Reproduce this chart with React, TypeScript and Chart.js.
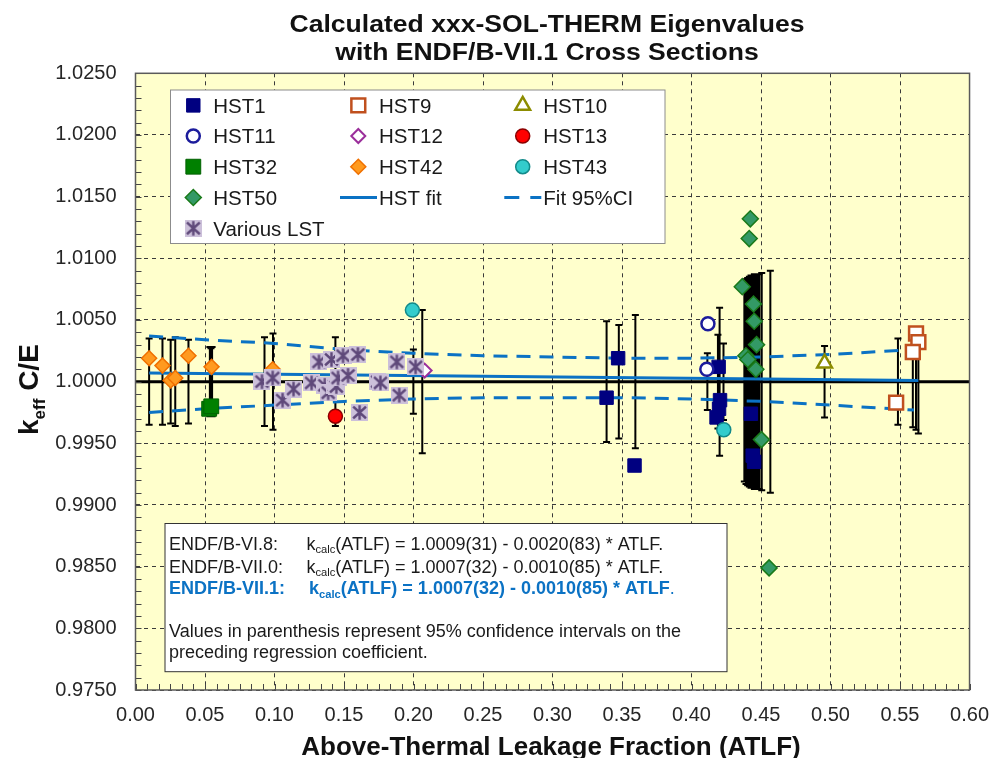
import React, { useEffect, useRef } from 'react';
import { Chart, registerables } from 'chart.js';

Chart.register(...registerables);

const FONT = '"Liberation Sans", Arial, Helvetica, sans-serif';

// ---------------- data ----------------
const xTickLabels = ['0.00', '0.05', '0.10', '0.15', '0.20', '0.25', '0.30', '0.35', '0.40', '0.45', '0.50', '0.55', '0.60'];
const yTickLabels = ['0.9750', '0.9800', '0.9850', '0.9900', '0.9950', '1.0000', '1.0050', '1.0100', '1.0150', '1.0200', '1.0250'];

const hst1X = [0.3389, 0.3472, 0.3590, 0.4195, 0.4205, 0.4198, 0.4180, 0.4427, 0.4440, 0.4450];
const hst1Y = [0.9987, 1.0019, 0.9932, 1.0012, 0.9985, 0.9978, 0.9971, 0.9974, 0.9940, 0.9935];
const hst9X = [0.5472, 0.5615, 0.5632, 0.5592];
const hst9Y = [0.9983, 1.0039, 1.0032, 1.0024];
const hst10X = [0.4957];
const hst10Y = [1.0015];
const hst11X = [0.4118, 0.4110];
const hst11Y = [1.0047, 1.0010];
const hst12X = [0.2080];
const hst12Y = [1.0009];
const hst13X = [0.1438];
const hst13Y = [0.9972];
const hst32X = [0.0530, 0.0545];
const hst32Y = [0.9978, 0.9980];
const hst42X = [0.0098, 0.0194, 0.0253, 0.0286, 0.0381, 0.0547, 0.0987];
const hst42Y = [1.0019, 1.0013, 1.0001, 1.0003, 1.0021, 1.0012, 1.0010];
const hst43X = [0.1992, 0.4232];
const hst43Y = [1.0058, 0.9961];
const hst50X = [0.4423, 0.4415, 0.4365, 0.4446, 0.4451, 0.4468, 0.4391, 0.4405, 0.4463, 0.4503, 0.4558];
const hst50Y = [1.0132, 1.0116, 1.0077, 1.0063, 1.0049, 1.0030, 1.0021, 1.0018, 1.0010, 0.9953, 0.9849];
const lstX = [0.0910, 0.0987, 0.1058, 0.1137, 0.1267, 0.1320, 0.1362, 0.1386, 0.1410, 0.1434, 0.1445, 0.1457, 0.1493, 0.1529, 0.1600, 0.1612, 0.1742, 0.1762, 0.1880, 0.1897, 0.2015];
const lstY = [1.0000, 1.0003, 0.9985, 0.9994, 0.9999, 1.0016, 0.9997, 0.9991, 1.0018, 0.9997, 0.9996, 1.0003, 1.0021, 1.0005, 1.0022, 0.9975, 1.0000, 0.9999, 1.0016, 0.9989, 1.0012];

// HST linear fit and its 95% confidence band
const fitX = [0.0098, 0.5632];
const fitY = [1.0007, 1.0001];
const ciX = [0.0098, 0.05, 0.10, 0.15, 0.20, 0.25, 0.30, 0.35, 0.40, 0.45, 0.50, 0.5600];
const ciUpper = [1.0037, 1.0034, 1.0031, 1.0026, 1.0023, 1.0021, 1.0020, 1.0019, 1.0019, 1.0020, 1.0022, 1.0026];
const ciLower = [0.9975, 0.9978, 0.9981, 0.9984, 0.9986, 0.9987, 0.9987, 0.9987, 0.9986, 0.9984, 0.9981, 0.9977];

// reference line C/E = 1
const refX = [0, 0.6];
const refY = [1, 1];

// benchmark uncertainty bars (centred on C/E = 1): x position and half-width
const errX = [0.0098, 0.0194, 0.0253, 0.0286, 0.0381, 0.0535, 0.0543, 0.0551, 0.0928, 0.0989, 0.1438, 0.1999, 0.2063, 0.3389, 0.3477, 0.3596, 0.4114, 0.4190, 0.4202, 0.4230, 0.4380, 0.4392, 0.4404, 0.4416, 0.4428, 0.4440, 0.4452, 0.4464, 0.4475, 0.4488, 0.4505, 0.4567, 0.4957, 0.5485, 0.5592, 0.5615, 0.5632];
const errU = [0.0035, 0.0035, 0.0034, 0.0036, 0.0034, 0.0028, 0.0027, 0.0028, 0.0036, 0.0039, 0.0036, 0.0026, 0.0058, 0.0049, 0.0046, 0.0054, 0.0023, 0.0038, 0.0060, 0.0031, 0.0081, 0.0083, 0.0084, 0.0085, 0.0086, 0.0086, 0.0087, 0.0086, 0.0087, 0.0087, 0.0088, 0.0090, 0.0029, 0.0035, 0.0037, 0.0039, 0.0042];

// ---------------- styles ----------------
type Shape = 'rect' | 'rectRot' | 'circle' | 'triangle' | 'lst';
interface MStyle { shape: Shape; r: number; fill: string; stroke: string; lw: number }

const BLUE = '#0B72C4';
const S: Record<string, MStyle> = {
  HST1: { shape: 'rect', r: 9.5, fill: '#000080', stroke: '#000080', lw: 1 },
  HST9: { shape: 'rect', r: 9.8, fill: '#FFFFFF', stroke: '#C0501E', lw: 2.5 },
  HST10: { shape: 'triangle', r: 8.5, fill: '#FFFFFF', stroke: '#8C8C00', lw: 2.5 },
  HST11: { shape: 'circle', r: 6.5, fill: '#FFFFFF', stroke: '#1C1C9C', lw: 2.5 },
  HST12: { shape: 'rectRot', r: 7, fill: '#FFFFFF', stroke: '#9B2F9B', lw: 2 },
  HST13: { shape: 'circle', r: 7, fill: '#FF0000', stroke: '#8B0000', lw: 1.5 },
  HST32: { shape: 'rect', r: 10.5, fill: '#008000', stroke: '#006000', lw: 1 },
  HST42: { shape: 'rectRot', r: 7.5, fill: '#FF9A1F', stroke: '#F07000', lw: 1.5 },
  HST43: { shape: 'circle', r: 7, fill: '#33CCCC', stroke: '#138A8A', lw: 1.5 },
  HST50: { shape: 'rectRot', r: 8, fill: '#339966', stroke: '#1A7A1A', lw: 1.5 },
  LST: { shape: 'lst', r: 8.5, fill: '#CCC0DA', stroke: '#5F497A', lw: 2.4 },
};

function makeLstMarker(): HTMLCanvasElement {
  const c = document.createElement('canvas');
  c.width = 17;
  c.height = 17;
  const g = c.getContext('2d')!;
  g.fillStyle = S.LST.fill;
  g.fillRect(0, 0, 17, 17);
  g.strokeStyle = S.LST.stroke;
  g.lineWidth = S.LST.lw;
  g.lineCap = 'square';
  g.beginPath();
  g.moveTo(3, 3.5); g.lineTo(14, 13.5);
  g.moveTo(14, 3.5); g.lineTo(3, 13.5);
  g.moveTo(8.5, 2.5); g.lineTo(8.5, 14.5);
  g.stroke();
  return c;
}

function drawMarker(ctx: CanvasRenderingContext2D, st: MStyle, x: number, y: number, img: HTMLCanvasElement) {
  if (st.shape === 'lst') {
    ctx.drawImage(img, x - img.width / 2, y - img.height / 2);
    return;
  }
  const r = st.r;
  ctx.save();
  ctx.beginPath();
  if (st.shape === 'rect') {
    const s = Math.SQRT1_2 * r;
    ctx.rect(x - s, y - s, 2 * s, 2 * s);
  } else if (st.shape === 'rectRot') {
    ctx.moveTo(x - r, y); ctx.lineTo(x, y - r); ctx.lineTo(x + r, y); ctx.lineTo(x, y + r); ctx.closePath();
  } else if (st.shape === 'circle') {
    ctx.arc(x, y, r, 0, Math.PI * 2);
  } else {
    let a = 0;
    ctx.moveTo(x + Math.sin(a) * r, y - Math.cos(a) * r);
    a += (2 * Math.PI) / 3;
    ctx.lineTo(x + Math.sin(a) * r, y - Math.cos(a) * r);
    a += (2 * Math.PI) / 3;
    ctx.lineTo(x + Math.sin(a) * r, y - Math.cos(a) * r);
    ctx.closePath();
  }
  ctx.fillStyle = st.fill;
  ctx.fill();
  ctx.lineWidth = st.lw;
  ctx.strokeStyle = st.stroke;
  ctx.stroke();
  ctx.restore();
}

interface Seg { t: string; sub?: boolean; bold?: boolean }
function drawRich(ctx: CanvasRenderingContext2D, x: number, y: number, segs: Seg[], size: number, bold: boolean, color: string) {
  let cx = x;
  ctx.fillStyle = color;
  ctx.textBaseline = 'alphabetic';
  ctx.textAlign = 'left';
  for (const s of segs) {
    const fs = s.sub ? size * 0.62 : size;
    const b = s.bold === undefined ? bold : s.bold;
    ctx.font = `${b ? 'bold ' : ''}${fs}px ${FONT}`;
    ctx.fillText(s.t, cx, y + (s.sub ? size * 0.2 : 0));
    cx += ctx.measureText(s.t).width;
  }
}

const legendItems: { label: string; col: number; row: number; kind: 'm' | 'line' | 'dash'; st?: MStyle }[] = [
  { label: 'HST1', col: 0, row: 0, kind: 'm', st: S.HST1 },
  { label: 'HST9', col: 1, row: 0, kind: 'm', st: S.HST9 },
  { label: 'HST10', col: 2, row: 0, kind: 'm', st: S.HST10 },
  { label: 'HST11', col: 0, row: 1, kind: 'm', st: S.HST11 },
  { label: 'HST12', col: 1, row: 1, kind: 'm', st: S.HST12 },
  { label: 'HST13', col: 2, row: 1, kind: 'm', st: S.HST13 },
  { label: 'HST32', col: 0, row: 2, kind: 'm', st: S.HST32 },
  { label: 'HST42', col: 1, row: 2, kind: 'm', st: S.HST42 },
  { label: 'HST43', col: 2, row: 2, kind: 'm', st: S.HST43 },
  { label: 'HST50', col: 0, row: 3, kind: 'm', st: S.HST50 },
  { label: 'HST fit', col: 1, row: 3, kind: 'line' },
  { label: 'Fit 95%CI', col: 2, row: 3, kind: 'dash' },
  { label: 'Various LST', col: 0, row: 4, kind: 'm', st: S.LST },
];

function pts(xs: number[], ys: number[]) {
  return xs.map((x, i) => ({ x, y: ys[i] }));
}

export default function App() {
  const ref = useRef<HTMLCanvasElement>(null);

  useEffect(() => {
    const canvas = ref.current;
    if (!canvas) return;
    const lstImg = makeLstMarker();

    const mk = (label: string, xs: number[], ys: number[], st: MStyle, order: number) => ({
      type: 'scatter' as const,
      label,
      data: pts(xs, ys),
      showLine: false,
      order,
      pointStyle: st.shape === 'lst' ? lstImg : st.shape,
      pointRadius: st.r,
      pointBackgroundColor: st.fill,
      pointBorderColor: st.stroke,
      pointBorderWidth: st.lw,
      backgroundColor: st.fill,
      borderColor: st.stroke,
    });
    const ln = (label: string, xs: number[], ys: number[], color: string, width: number, dash: number[], order: number) => ({
      type: 'scatter' as const,
      label,
      data: pts(xs, ys),
      showLine: true,
      order,
      pointRadius: 0,
      borderColor: color,
      borderWidth: width,
      borderDash: dash,
      tension: 0,
      fill: false,
    });

    const errorBars = {
      id: 'errorBars',
      beforeDatasetsDraw(chart: any) {
        const { ctx, scales } = chart;
        const xs = scales.x, ys = scales.y;
        ctx.save();
        ctx.strokeStyle = '#000';
        ctx.lineWidth = 2;
        ctx.beginPath();
        errX.forEach((xv, i) => {
          const px = xs.getPixelForValue(xv);
          const t = ys.getPixelForValue(1 + errU[i]);
          const b = ys.getPixelForValue(1 - errU[i]);
          ctx.moveTo(px, t); ctx.lineTo(px, b);
          ctx.moveTo(px - 3.5, t); ctx.lineTo(px + 3.5, t);
          ctx.moveTo(px - 3.5, b); ctx.lineTo(px + 3.5, b);
        });
        ctx.stroke();
        ctx.restore();
      },
    };

    const background = {
      id: 'bgFill',
      beforeDraw(chart: any) {
        const { ctx, chartArea: a } = chart;
        ctx.save();
        ctx.fillStyle = '#FFFFFF';
        ctx.fillRect(0, 0, chart.width, chart.height);
        ctx.fillStyle = '#FFFFCC';
        ctx.fillRect(a.left, a.top, a.right - a.left, a.bottom - a.top);
        ctx.restore();
      },
    };

    const decor = {
      id: 'decor',
      afterDraw(chart: any) {
        const { ctx, chartArea: a, scales } = chart;
        const xs = scales.x, ys = scales.y;
        ctx.save();
        // minor ticks
        ctx.strokeStyle = '#444';
        ctx.lineWidth = 1;
        ctx.beginPath();
        for (let i = 0; i <= 50; i++) {
          const py = Math.round(ys.getPixelForValue(0.975 + i * 0.001)) + 0.5;
          ctx.moveTo(a.left, py); ctx.lineTo(a.left + 6, py);
        }
        for (let i = 0; i <= 72; i++) {
          const px = Math.round(xs.getPixelForValue((i * 0.05) / 6)) + 0.5;
          ctx.moveTo(px, a.bottom); ctx.lineTo(px, a.bottom - 6);
        }
        ctx.stroke();
        // plot border
        ctx.strokeStyle = '#5a5a5a';
        ctx.lineWidth = 1.5;
        ctx.strokeRect(a.left, a.top, a.right - a.left, a.bottom - a.top);

        // legend
        const L = { l: 170.5, t: 90, r: 665, b: 243.5 };
        ctx.fillStyle = '#FFFFFF';
        ctx.fillRect(L.l, L.t, L.r - L.l, L.b - L.t);
        ctx.strokeStyle = '#8c8c8c';
        ctx.lineWidth = 1;
        ctx.strokeRect(L.l, L.t, L.r - L.l, L.b - L.t);
        const markX = [193.3, 358.3, 522.7];
        const textX = [213.3, 379, 543.3];
        const rowBase = [112.7, 143.3, 174, 204.8, 235.6];
        ctx.textBaseline = 'alphabetic';
        ctx.textAlign = 'left';
        for (const it of legendItems) {
          const base = rowBase[it.row];
          const cy = base - 7.3;
          if (it.kind === 'm' && it.st) {
            drawMarker(ctx, it.st, markX[it.col], cy, lstImg);
          } else {
            ctx.save();
            ctx.strokeStyle = BLUE; ctx.lineWidth = 3;
            if (it.kind === 'dash') ctx.setLineDash([15, 11]);
            ctx.beginPath(); ctx.moveTo(textX[it.col] - 39, cy); ctx.lineTo(textX[it.col] - 2, cy); ctx.stroke();
            ctx.restore();
          }
          ctx.font = `20.5px ${FONT}`;
          ctx.fillStyle = '#1a1a1a';
          ctx.fillText(it.label, textX[it.col], base);
        }

        // equation box
        const B = { l: 165, t: 523.5, r: 727, b: 671.7 };
        ctx.fillStyle = '#FFFFFF';
        ctx.fillRect(B.l, B.t, B.r - B.l, B.b - B.t);
        ctx.strokeStyle = '#333';
        ctx.lineWidth = 1;
        ctx.strokeRect(B.l, B.t, B.r - B.l, B.b - B.t);
        const tx = 169;
        const fs = 18;
        const dark = '#1a1a1a';
        drawRich(ctx, tx, 549.5, [{ t: 'ENDF/B-VI.8:' }], fs, false, dark);
        drawRich(ctx, 306.5, 549.5, [{ t: 'k' }, { t: 'calc', sub: true }, { t: '(ATLF) = 1.0009(31) - 0.0020(83) * ATLF.' }], fs, false, dark);
        drawRich(ctx, tx, 572.7, [{ t: 'ENDF/B-VII.0:' }], fs, false, dark);
        drawRich(ctx, 306.5, 572.7, [{ t: 'k' }, { t: 'calc', sub: true }, { t: '(ATLF) = 1.0007(32) - 0.0010(85) * ATLF.' }], fs, false, dark);
        drawRich(ctx, tx, 594, [{ t: 'ENDF/B-VII.1:' }], fs, true, BLUE);
        drawRich(ctx, 309, 594, [{ t: 'k' }, { t: 'calc', sub: true }, { t: '(ATLF) = 1.0007(32) - 0.0010(85) * ATLF' }, { t: '.', bold: false }], fs, true, BLUE);
        drawRich(ctx, tx, 637.3, [{ t: 'Values in parenthesis represent 95% confidence intervals on the' }], fs, false, dark);
        drawRich(ctx, tx, 658.2, [{ t: 'preceding regression coefficient.' }], fs, false, dark);

        // title (two lines)
        ctx.fillStyle = '#111';
        ctx.font = `bold 23.5px ${FONT}`;
        ctx.textAlign = 'center';
        ctx.textBaseline = 'alphabetic';
        const titleLines: [string, number][] = [
          ['Calculated xxx-SOL-THERM Eigenvalues', 31.7],
          ['with ENDF/B-VII.1 Cross Sections', 60],
        ];
        for (const [t, by] of titleLines) {
          ctx.save();
          ctx.translate(547, by);
          ctx.scale(1.13, 1);
          ctx.fillText(t, 0, 0);
          ctx.restore();
        }

        // x axis title
        ctx.font = `bold 26px ${FONT}`;
        ctx.textAlign = 'center';
        ctx.fillText('Above-Thermal Leakage Fraction (ATLF)', (a.left + a.right) / 2 - 1.5, 755);

        // y axis title (rotated) with subscript
        ctx.save();
        ctx.translate(38.3, 435);
        ctx.rotate(-Math.PI / 2);
        ctx.textAlign = 'left';
        let cx = 0;
        ctx.font = `bold 28px ${FONT}`;
        ctx.fillText('k', cx, 0);
        cx += ctx.measureText('k').width;
        ctx.font = `bold 17px ${FONT}`;
        ctx.fillText('eff', cx, 6.5);
        cx += ctx.measureText('eff').width;
        ctx.font = `bold 28px ${FONT}`;
        ctx.fillText(' C/E', cx, 0);
        ctx.restore();

        ctx.restore();
      },
    };

    const tickFont = { family: FONT, size: 20 };
    const chart = new Chart(canvas, {
      type: 'scatter',
      data: {
        datasets: [
          mk('Various LST', lstX, lstY, S.LST, 0),
          mk('HST43', hst43X, hst43Y, S.HST43, 1),
          mk('HST11', hst11X, hst11Y, S.HST11, 2),
          mk('HST50', hst50X, hst50Y, S.HST50, 3),
          mk('HST13', hst13X, hst13Y, S.HST13, 4),
          mk('HST12', hst12X, hst12Y, S.HST12, 5),
          mk('HST42', hst42X, hst42Y, S.HST42, 6),
          mk('HST32', hst32X, hst32Y, S.HST32, 7),
          mk('HST10', hst10X, hst10Y, S.HST10, 8),
          mk('HST9', hst9X, hst9Y, S.HST9, 9),
          mk('HST1', hst1X, hst1Y, S.HST1, 10),
          ln('HST fit', fitX, fitY, BLUE, 3, [], 20),
          ln('Fit 95%CI upper', ciX, ciUpper, BLUE, 3, [14, 9], 21),
          ln('Fit 95%CI lower', ciX, ciLower, BLUE, 3, [14, 9], 22),
          ln('C/E = 1', refX, refY, '#000000', 3, [], 30),
        ] as any,
      },
      options: {
        responsive: false,
        animation: false,
        devicePixelRatio: 1,
        events: [],
        layout: { padding: { top: 73.3, right: 24.5, bottom: 0, left: 0 } },
        plugins: { legend: { display: false }, tooltip: { enabled: false }, title: { display: false } },
        scales: {
          x: {
            type: 'linear',
            position: 'bottom',
            min: 0,
            max: 0.6,
            ticks: {
              stepSize: 0.05,
              autoSkip: false,
              maxRotation: 0,
              font: tickFont,
              color: '#262626',
              padding: 13,
              callback: (v: any, i: number) => xTickLabels[i] ?? Number(v).toFixed(2),
            },
            grid: { color: '#3a3a3a', lineWidth: 1, drawTicks: false },
            border: { display: false, dash: [4, 4] },
            afterFit: (s: any) => { s.height = 68; },
          },
          y: {
            type: 'linear',
            position: 'left',
            min: 0.975,
            max: 1.025,
            ticks: {
              stepSize: 0.005,
              autoSkip: false,
              font: tickFont,
              color: '#262626',
              padding: 19,
              callback: (v: any, i: number) => yTickLabels[i] ?? Number(v).toFixed(4),
            },
            grid: { color: '#3a3a3a', lineWidth: 1, drawTicks: false },
            border: { display: false, dash: [4, 4] },
            afterFit: (s: any) => { s.width = 135.5; },
          },
        },
      } as any,
      plugins: [background, errorBars, decor],
    });
    return () => chart.destroy();
  }, []);

  return (
    <div style={{ position: 'absolute', left: 0, top: 0, width: 1002, height: 758, background: '#fff' }}>
      <canvas ref={ref} width={1002} height={758} style={{ width: 1002, height: 758, display: 'block' }} />
    </div>
  );
}
